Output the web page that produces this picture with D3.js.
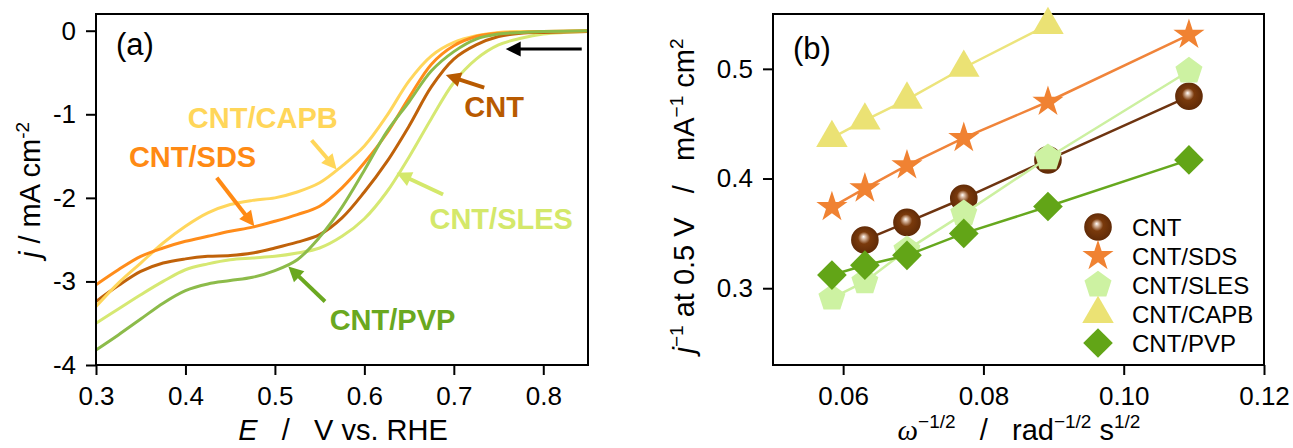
<!DOCTYPE html>
<html>
<head>
<meta charset="utf-8">
<script src="https://cdn.jsdelivr.net/npm/d3@7"></script>
<style>
  body { margin: 0; background: #fff; }
  svg { display: block; font-family: "Liberation Sans", Arial, sans-serif; }
</style>
</head>
<body>
<svg id="fig" width="1293" height="448"></svg>
<script>
// ---- panel (a): LSV curves, j (mA cm-2) vs E (V vs RHE)
const potential = [0.30, 0.325, 0.35, 0.375, 0.40, 0.425, 0.45, 0.475, 0.50, 0.525, 0.55, 0.575,
                   0.60, 0.625, 0.65, 0.675, 0.70, 0.725, 0.75, 0.775, 0.80, 0.85];
const lsvCNT  = [-3.24, -3.05, -2.88, -2.78, -2.73, -2.70, -2.69, -2.66, -2.60, -2.53, -2.44, -2.24,
                 -1.93, -1.57, -1.14, -0.67, -0.34, -0.17, -0.07, -0.03, -0.02, -0.01];
const lsvSDS  = [-3.04, -2.86, -2.70, -2.60, -2.52, -2.46, -2.40, -2.35, -2.28, -2.20, -2.10, -1.88,
                 -1.58, -1.23, -0.80, -0.40, -0.18, -0.07, -0.03, -0.02, -0.01, 0.00];
const lsvCAPB = [-3.30, -3.02, -2.78, -2.54, -2.34, -2.18, -2.08, -2.03, -2.00, -1.93, -1.82, -1.62,
                 -1.38, -1.02, -0.60, -0.30, -0.14, -0.06, -0.02, -0.01, -0.01, 0.00];
const lsvSLES = [-3.50, -3.33, -3.16, -3.00, -2.86, -2.79, -2.74, -2.72, -2.70, -2.66, -2.60, -2.46,
                 -2.25, -1.93, -1.51, -1.05, -0.62, -0.34, -0.17, -0.09, -0.04, -0.01];
const lsvPVP  = [-3.82, -3.64, -3.45, -3.26, -3.11, -3.03, -2.99, -2.95, -2.87, -2.74, -2.47, -2.11,
                 -1.67, -1.21, -0.85, -0.48, -0.25, -0.10, -0.04, -0.02, -0.01, 0.00];

// curve labels + arrows (data coords: [E, j])
const labelNames = ["CNT/CAPB", "CNT/SDS", "CNT", "CNT/SLES", "CNT/PVP"];
const labelAt    = [[0.4027, -1.16], [0.3368, -1.63], [0.7118, -1.03], [0.6728, -2.37], [0.5612, -3.58]];
const arrowFrom  = [[0.541, -1.31], [0.435, -1.76], [0.734, -0.68], [0.688, -1.96], [0.556, -3.24]];
const arrowTo    = [[0.569, -1.66], [0.477, -2.34], [0.691, -0.53], [0.636, -1.70], [0.515, -2.82]];
const scanArrow  = [[0.843, -0.22], [0.758, -0.22]];

const ticksE = [0.3, 0.4, 0.5, 0.6, 0.7, 0.8];
const ticksJ = [0, -1, -2, -3, -4];

// ---- panel (b): Koutecky-Levich, j^-1 at 0.5 V vs omega^-1/2
const omegaInv = [0.0584, 0.0631, 0.0691, 0.0772, 0.0892, 0.1093];
const klCNT  = [null, 0.344, 0.360, 0.382, 0.417, 0.475];
const klSDS  = [0.374, 0.391, 0.412, 0.437, 0.470, 0.531];
const klSLES = [0.291, 0.306, 0.335, 0.368, 0.419, 0.498];
const klCAPB = [0.437, 0.453, 0.472, 0.501, 0.540, null];
const klPVP  = [0.312, 0.321, 0.330, 0.350, 0.3745, 0.417];
const klNames = ["CNT", "CNT/SDS", "CNT/SLES", "CNT/CAPB", "CNT/PVP"];

const ticksW = [0.06, 0.08, 0.10, 0.12];
const ticksK = [0.3, 0.4, 0.5];

// styles
const lsvColor = {"CNT": "#c0620a", "CNT/SDS": "#ff8c1a", "CNT/CAPB": "#ffd65c", "CNT/SLES": "#d6e872", "CNT/PVP": "#8cbb4a"};
const labColor = {"CNT": "#b85a00", "CNT/SDS": "#ff8a14", "CNT/CAPB": "#ffd659", "CNT/SLES": "#d4e86a", "CNT/PVP": "#6aa820"};
const klLine   = {"CNT": "#6e3410", "CNT/SDS": "#f0843a", "CNT/SLES": "#ccf0a0", "CNT/CAPB": "#ece47c", "CNT/PVP": "#66a81e"};
const klFill   = {"CNT": "url(#sphere)", "CNT/SDS": "#f08232", "CNT/SLES": "#cdf2a2", "CNT/CAPB": "#ebe274", "CNT/PVP": "#62a517"};

const svg = d3.select("#fig");
const FONT = 26, TITLE = 29;

// sphere gradient for CNT markers
var grad = svg.append("defs").append("radialGradient").attr("id", "sphere")
  .attr("cx", "50%").attr("cy", "50%").attr("r", "55%").attr("fx", "45%").attr("fy", "38%");
grad.append("stop").attr("offset", "0%").attr("stop-color", "#ffffff");
grad.append("stop").attr("offset", "14%").attr("stop-color", "#d8b8a0");
grad.append("stop").attr("offset", "40%").attr("stop-color", "#7a3a0c");
grad.append("stop").attr("offset", "100%").attr("stop-color", "#5c2806");

function frame(g, x, y) {
  g.append("rect")
    .attr("x", x.range()[0]).attr("y", y.range()[1])
    .attr("width", x.range()[1] - x.range()[0]).attr("height", y.range()[0] - y.range()[1])
    .attr("fill", "none").attr("stroke", "#000").attr("stroke-width", 2);
}

function axes(g, x, y, xt, xminor, yt, yminor, fx, fy) {
  var h = y.range()[0], l = x.range()[0];
  var gx = g.append("g").attr("transform", "translate(0," + h + ")");
  gx.call(d3.axisBottom(x).tickValues(xminor).tickSize(5).tickFormat(""));
  gx.call(d3.axisBottom(x).tickValues(xt).tickSize(10).tickPadding(12).tickFormat(fx));
  var gy = g.append("g").attr("transform", "translate(" + l + ",0)");
  gy.call(d3.axisLeft(y).tickValues(yminor).tickSize(5).tickFormat(""));
  gy.call(d3.axisLeft(y).tickValues(yt).tickSize(10).tickPadding(10).tickFormat(fy));
  g.selectAll(".domain").remove();
  g.selectAll(".tick line").attr("stroke", "#000").attr("stroke-width", 2);
  g.selectAll(".tick text").attr("font-size", FONT).attr("font-family", "Liberation Sans, Arial, sans-serif").attr("fill", "#000");
}

function arrow(g, p0, p1, color, w) {
  var a = Math.atan2(p1[1] - p0[1], p1[0] - p0[0]);
  var L = 15, hw = 7.5;
  var bx = p1[0] - L * Math.cos(a), by = p1[1] - L * Math.sin(a);
  g.append("line").attr("x1", p0[0]).attr("y1", p0[1]).attr("x2", bx + 2 * Math.cos(a)).attr("y2", by + 2 * Math.sin(a))
    .attr("stroke", color).attr("stroke-width", w);
  var px = -Math.sin(a) * hw, py = Math.cos(a) * hw;
  g.append("path")
    .attr("d", "M" + p1[0] + "," + p1[1] + "L" + (bx + px) + "," + (by + py) + "L" + (bx - px) + "," + (by - py) + "Z")
    .attr("fill", color);
}

// ================= panel (a)
var xa = d3.scaleLinear().domain([0.3, 0.85]).range([96, 588]);
var ya = d3.scaleLinear().domain([-4, 0.2]).range([365, 14]);
var ga = svg.append("g");

ga.append("clipPath").attr("id", "clipa").append("rect")
  .attr("x", 96).attr("y", 14).attr("width", 492).attr("height", 351);

var lsv = [
  {name: "CNT/SLES", j: lsvSLES},
  {name: "CNT", j: lsvCNT},
  {name: "CNT/CAPB", j: lsvCAPB},
  {name: "CNT/SDS", j: lsvSDS},
  {name: "CNT/PVP", j: lsvPVP}
];
var lineA = d3.line().x(d => xa(d[0])).y(d => ya(d[1])).curve(d3.curveCatmullRom.alpha(0.5));
ga.append("g").attr("clip-path", "url(#clipa)")
  .selectAll("path").data(lsv).join("path")
  .attr("d", s => lineA(potential.map((e, i) => [e, s.j[i]])))
  .attr("fill", "none").attr("stroke", s => lsvColor[s.name]).attr("stroke-width", 3);

axes(ga, xa, ya, ticksE, [0.35, 0.45, 0.55, 0.65, 0.75, 0.85], ticksJ,
     [-3.5, -2.5, -1.5, -0.5], d3.format(".1f"), d => String(d));
frame(ga, xa, ya);

labelNames.forEach(function(n, i) {
  arrow(ga, [xa(arrowFrom[i][0]), ya(arrowFrom[i][1])], [xa(arrowTo[i][0]), ya(arrowTo[i][1])], labColor[n], 4);
  ga.append("text").attr("x", xa(labelAt[i][0])).attr("y", ya(labelAt[i][1]))
    .attr("font-size", 29).attr("font-weight", "bold").attr("fill", labColor[n]).text(n);
});
arrow(ga, [xa(scanArrow[0][0]), ya(scanArrow[0][1])], [xa(scanArrow[1][0]), ya(scanArrow[1][1])], "#000", 3);

ga.append("text").attr("x", 116).attr("y", 55).attr("font-size", 31).text("(a)");

ga.append("text").attr("transform", "translate(40,190) rotate(-90)").attr("text-anchor", "middle")
  .attr("font-size", TITLE).style("white-space", "pre")
  .call(t => {
    t.append("tspan").attr("font-style", "italic").text("j");
    t.append("tspan").text(" / mA cm");
    t.append("tspan").attr("font-size", 19).attr("dy", -11).text("-2");
  });

ga.append("text").attr("x", 343).attr("y", 440).attr("text-anchor", "middle")
  .attr("font-size", TITLE).style("white-space", "pre")
  .call(t => {
    t.append("tspan").attr("font-style", "italic").text("E");
    t.append("tspan").text("   /   V vs. RHE");
  });

// ================= panel (b)
var xb = d3.scaleLinear().domain([0.05, 0.12]).range([773, 1264]);
var yb = d3.scaleLinear().domain([0.23, 0.55]).range([365, 14]);
var gb = svg.append("g");

axes(gb, xb, yb, ticksW, [0.05, 0.07, 0.09, 0.11], ticksK, [0.25, 0.35, 0.45, 0.55],
     d3.format(".2f"), d3.format(".1f"));
frame(gb, xb, yb);

// marker shapes
var pentagon = {
  draw: function(ctx, size) {
    var r = Math.sqrt(size / 2.3776);
    for (var k = 0; k < 5; k++) {
      var a = -Math.PI / 2 + k * 2 * Math.PI / 5;
      if (k === 0) ctx.moveTo(r * Math.cos(a), r * Math.sin(a)); else ctx.lineTo(r * Math.cos(a), r * Math.sin(a));
    }
    ctx.closePath();
  }
};
var shape = {
  "CNT": {type: d3.symbolCircle, size: 600, rot: 0},
  "CNT/SDS": {type: d3.symbolStar, size: 300, rot: 0},
  "CNT/SLES": {type: pentagon, size: 480, rot: 0},
  "CNT/CAPB": {type: d3.symbolTriangle, size: 430, rot: 0},
  "CNT/PVP": {type: d3.symbolSquare, size: 440, rot: 45}
};
function marker(g, name, x, y) {
  var s = shape[name];
  g.append("path").attr("d", d3.symbol().type(s.type).size(s.size)())
    .attr("transform", "translate(" + x + "," + y + ") rotate(" + s.rot + ")")
    .attr("fill", klFill[name]);
}

var kl = [
  {name: "CNT", v: klCNT},
  {name: "CNT/SDS", v: klSDS},
  {name: "CNT/SLES", v: klSLES},
  {name: "CNT/CAPB", v: klCAPB},
  {name: "CNT/PVP", v: klPVP}
];
var lineB = d3.line().defined(d => d[1] != null).x(d => xb(d[0])).y(d => yb(d[1]));
kl.forEach(function(s) {
  var pts = omegaInv.map((w, i) => [w, s.v[i]]);
  var g = gb.append("g");
  g.append("path").attr("d", lineB(pts)).attr("fill", "none").attr("stroke", klLine[s.name]).attr("stroke-width", 2.5);
  pts.filter(p => p[1] != null).forEach(p => marker(g, s.name, xb(p[0]), yb(p[1])));
});

// legend
klNames.forEach(function(n, i) {
  var y = 227 + i * 29;
  marker(gb, n, 1098, y);
  gb.append("text").attr("x", 1132).attr("y", y).attr("dy", "0.36em").attr("font-size", 24).text(n);
});

gb.append("text").attr("x", 793).attr("y", 59).attr("font-size", 31).text("(b)");

gb.append("text").attr("transform", "translate(694,196) rotate(-90)").attr("text-anchor", "middle")
  .attr("font-size", TITLE).style("white-space", "pre")
  .call(t => {
    t.append("tspan").attr("font-style", "italic").text("j");
    t.append("tspan").attr("font-size", 19).attr("dy", -11).text("\u22121");
    t.append("tspan").attr("dy", 11).text(" at 0.5 V   /   mA");
    t.append("tspan").attr("font-size", 19).attr("dy", -11).text("\u22121");
    t.append("tspan").attr("dy", 11).text(" cm");
    t.append("tspan").attr("font-size", 19).attr("dy", -11).text("2");
  });

gb.append("text").attr("x", 1019).attr("y", 440).attr("text-anchor", "middle")
  .attr("font-size", TITLE).style("white-space", "pre")
  .call(t => {
    t.append("tspan").attr("font-style", "italic").attr("font-family", "Liberation Serif, serif").text("\u03c9");
    t.append("tspan").attr("font-size", 19).attr("dy", -12).text("\u22121/2");
    t.append("tspan").attr("dy", 12).text("   /   rad");
    t.append("tspan").attr("font-size", 19).attr("dy", -12).text("\u22121/2");
    t.append("tspan").attr("dy", 12).text(" s");
    t.append("tspan").attr("font-size", 19).attr("dy", -12).text("1/2");
  });
</script>
</body>
</html>
